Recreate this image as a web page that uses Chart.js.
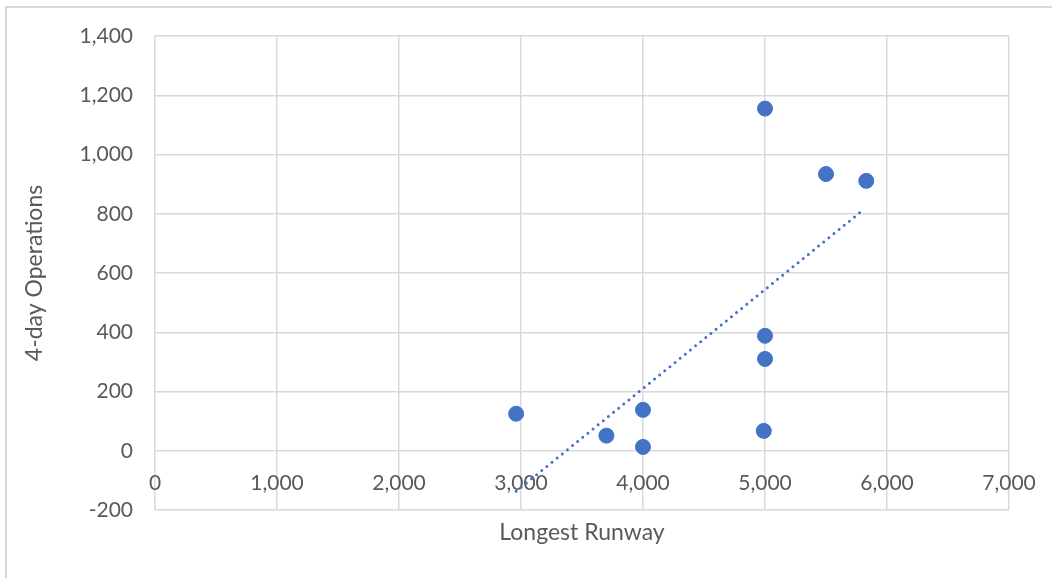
<!DOCTYPE html>
<html>
<head>
<meta charset="utf-8">
<script src="https://cdn.jsdelivr.net/npm/chart.js@4"></script>
<style>
    html, body { margin: 0; padding: 0; background: #fff; overflow: hidden; }
    #frame {
        position: absolute; left: 5px; top: 6px; width: 1100px; height: 620px;
        border-left: 2px solid #d9d9d9; border-top: 2px solid #d9d9d9;
    }
    #wrap { position: absolute; left: 0; top: 0; width: 1052px; height: 578px; }
</style>
</head>
<body>
<div id="frame"></div>
<div id="wrap"><canvas id="chart" width="1052" height="578"></canvas></div>
<script>
// Data
const runway = [2960, 3700, 4000, 4000, 5000, 5000, 5000, 4990, 5500, 5830];
const operations = [125, 51, 138, 13, 1155, 388, 310, 67, 934, 911];
// Trendline end points (as drawn)
const trendX = [2960, 5790];
const trendY = [-137, 808];

const xTicks = [0, 1000, 2000, 3000, 4000, 5000, 6000, 7000];
const yTicks = [-200, 0, 200, 400, 600, 800, 1000, 1200, 1400];

const FONT = 'Lato, "Open Sans", sans-serif';
const TEXT = '#595959';
const GRID = '#d9d9d9';
const BLUE = '#4472C4';

const fmt = v => v.toLocaleString('en-US');

const ctx = document.getElementById('chart').getContext('2d');
new Chart(ctx, {
    type: 'scatter',
    data: {
        datasets: [
            {
                label: 'Operations',
                data: runway.map((x, i) => ({ x: x, y: operations[i] })),
                backgroundColor: BLUE,
                borderColor: BLUE,
                pointRadius: 7.5,
                pointHoverRadius: 7.5,
                order: 1
            },
            {
                label: 'Trend',
                type: 'line',
                data: trendX.map((x, i) => ({ x: x, y: trendY[i] })),
                borderColor: BLUE,
                borderWidth: 3,
                borderDash: [0, 6.6],
                borderCapStyle: 'round',
                pointRadius: 0,
                fill: false,
                order: 2
            }
        ]
    },
    options: {
        responsive: false,
        animation: false,
        layout: { padding: { left: 21, top: 36, right: 43, bottom: 0 } },
        plugins: { legend: { display: false }, tooltip: { enabled: false } },
        scales: {
            x: {
                type: 'linear',
                position: { y: 0 },
                min: 0, max: 7000,
                afterBuildTicks: s => { s.ticks = xTicks.map(v => ({ value: v })); },
                afterFit: s => { s.paddingLeft = 0; s.paddingRight = 0; },
                grid: { color: GRID, lineWidth: 1.5, drawTicks: false },
                border: { display: false },
                ticks: {
                    color: TEXT, font: { family: FONT, size: 21 }, padding: 20,
                    maxRotation: 0, callback: v => fmt(v)
                }
            },
            x2: {
                type: 'linear',
                position: 'bottom',
                min: 0, max: 7000,
                grid: { display: false },
                border: { display: false },
                ticks: { display: false },
                title: {
                    display: true, text: 'Longest Runway', color: TEXT,
                    font: { family: FONT, size: 23 }, padding: { top: 0, bottom: 32 }
                },
                afterFit: s => { s.height = 68; }
            },
            y: {
                type: 'linear',
                min: -200, max: 1400,
                afterBuildTicks: s => { s.ticks = yTicks.map(v => ({ value: v })); },
                grid: { color: GRID, lineWidth: 1.5, drawTicks: false },
                border: { display: false },
                ticks: {
                    color: TEXT, font: { family: FONT, size: 21 }, padding: 22,
                    callback: v => fmt(v)
                },
                title: {
                    display: true, text: '4-day Operations', color: TEXT,
                    font: { family: FONT, size: 23 }, padding: 0
                },
                afterFit: s => { s.width = 134; }
            }
        }
    }
});
</script>
</body>
</html>
